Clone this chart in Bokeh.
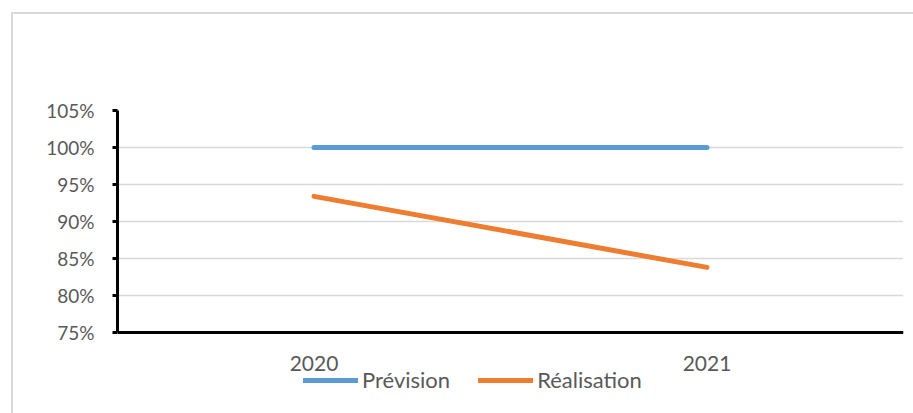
from bokeh.plotting import figure
from bokeh.models import (FactorRange, Range1d, FixedTicker, NumeralTickFormatter,
                          Legend, LegendItem, InlineStyleSheet, Span)
from bokeh.core.properties import value
from bokeh.embed import file_html
from bokeh.resources import INLINE

years = ["2020", "2021"]
prevision = [1.00, 1.00]
realisation = [0.934, 0.838]
y_ticks = [0.75, 0.80, 0.85, 0.90, 0.95, 1.00, 1.05]

FONT = "Lato"
TXT = "#595959"

# layout constants (pixels)
TOP, AXIS_Y, BOTTOM = 110, 332, 405
y_lo, y_hi = y_ticks[0], y_ticks[-1]
px_per_unit = (AXIS_Y - TOP) / (y_hi - y_lo)
y_min = y_lo - (BOTTOM - AXIS_Y) / px_per_unit

p = figure(frame_width=786, frame_height=BOTTOM - TOP, output_backend="svg",
           toolbar_location=None, x_axis_location=None,
           x_range=FactorRange(*years, range_padding=0),
           y_range=Range1d(y_min, y_hi),
           min_border_left=117, min_border_right=2,
           min_border_top=TOP, min_border_bottom=0)
p.stylesheets = [InlineStyleSheet(css="""
:host { position: relative; }
:host::after { content: ''; position: absolute; left: 11px; top: 12px;
  width: 2000px; height: 2000px; border-left: 2px solid #d9d9d9;
  border-top: 2px solid #d9d9d9; pointer-events: none; z-index: 10; }
""")]
p.outline_line_color = None
p.background_fill_color = "white"
p.border_fill_color = "white"

p.xgrid.grid_line_color = None
p.ygrid.grid_line_color = "#d9d9d9"
p.ygrid.grid_line_width = 1.5
p.ygrid.ticker = FixedTicker(ticks=y_ticks[1:])

# category axis line and labels
p.add_layout(Span(location=y_lo, dimension="width", line_color="black", line_width=3))
p.text(x=years, y=[y_lo] * len(years), text=years, y_offset=31,
       text_align="center", text_baseline="middle",
       text_font=value(FONT), text_font_size=value("21px"), text_color=TXT)

r1 = p.line(years, prevision, line_color="#5b9bd5", line_width=5, line_cap="round")
r2 = p.line(years, realisation, line_color="#ed7d31", line_width=5, line_cap="round")

p.yaxis.ticker = FixedTicker(ticks=y_ticks)
p.yaxis.bounds = (y_lo, y_hi)
p.yaxis.formatter = NumeralTickFormatter(format="0%")
p.yaxis.axis_line_color = "black"
p.yaxis.axis_line_width = 3
p.yaxis.major_tick_line_color = "black"
p.yaxis.major_tick_line_width = 3
p.yaxis.major_tick_out = 5
p.yaxis.major_tick_in = 0
p.yaxis.minor_tick_line_color = None
p.yaxis.major_label_standoff = 18
p.yaxis.major_label_text_font = FONT
p.yaxis.major_label_text_font_size = "19px"
p.yaxis.major_label_text_color = TXT

legend = Legend(items=[LegendItem(label="Prévision", renderers=[r1]),
                       LegendItem(label="Réalisation", renderers=[r2])],
                orientation="horizontal", location=(186, 12),
                glyph_width=55, glyph_height=20, label_standoff=4, spacing=28,
                padding=0, margin=0, border_line_color=None,
                background_fill_alpha=0,
                label_text_font=FONT, label_text_font_size="22px",
                label_text_color=TXT)
p.add_layout(legend, "center")

open("out.html", "w").write(file_html(p, INLINE))
